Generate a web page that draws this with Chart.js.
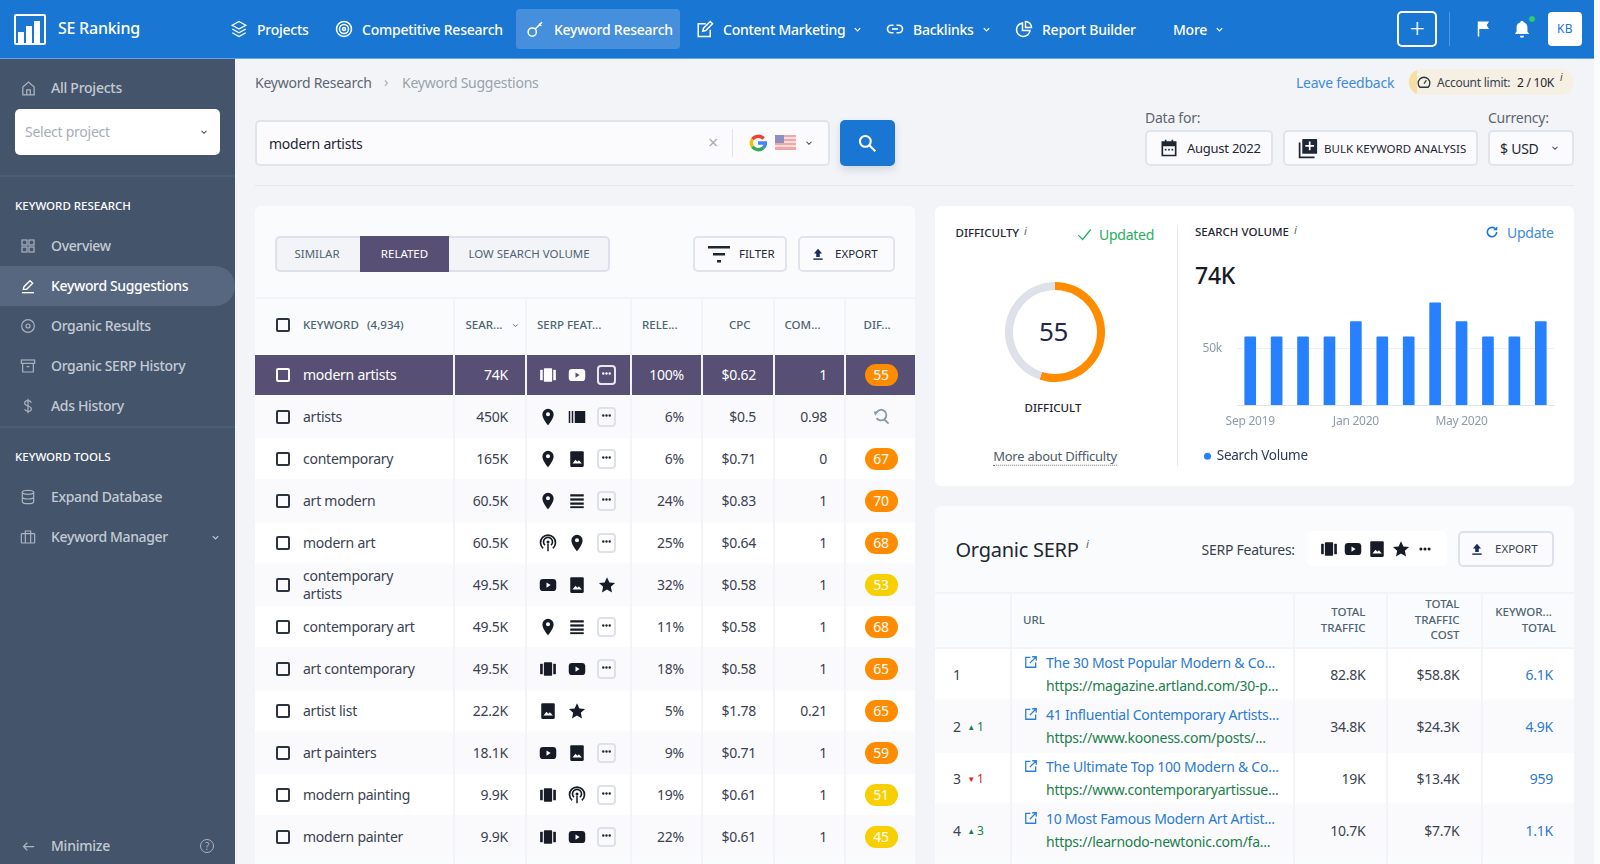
<!DOCTYPE html>
<html>
<head>
<meta charset="utf-8">
<script src="https://cdn.jsdelivr.net/npm/chart.js@4"></script>
<style>
html, body { margin: 0; padding: 0; width: 1600px; height: 864px; overflow: hidden; background: #f3f4f8; }
body { font-family: "Noto Sans", sans-serif; color: #3a4250; position: relative; letter-spacing: -0.25px; }
.t { position: absolute; white-space: nowrap; line-height: 1.2; }
.b { position: absolute; box-sizing: border-box; }
.i { position: absolute; display: block; }
canvas { position: absolute; }
</style>
</head>
<body>
<script>
// chart data
const months = ['Sep 2019', 'Oct 2019', 'Nov 2019', 'Dec 2019', 'Jan 2020', 'Feb 2020', 'Mar 2020', 'Apr 2020', 'May 2020', 'Jun 2020', 'Jul 2020', 'Aug 2020'];
const searchVolume = [60500, 60500, 60500, 60500, 74000, 60500, 60500, 90500, 74000, 60500, 60500, 74000];
const volumeTicks = [50000];
const difficultyValue = 55;
const difficultyMax = 100;

// keyword table
const keywords = ['modern artists', 'artists', 'contemporary', 'art modern', 'modern art', 'contemporary|artists', 'contemporary art', 'art contemporary', 'artist list', 'art painters', 'modern painting', 'modern painter'];
const volumes = ['74K', '450K', '165K', '60.5K', '60.5K', '49.5K', '49.5K', '49.5K', '22.2K', '18.1K', '9.9K', '9.9K'];
const serpIcons = ['carousel,youtube,more', 'pin,book,more', 'pin,image,more', 'pin,lines,more', 'podcast,pin,more', 'youtube,image,star', 'pin,lines,more', 'carousel,youtube,more', 'image,star', 'youtube,image,more', 'carousel,podcast,more', 'carousel,youtube,more'];
const relevance = ['100%', '6%', '6%', '24%', '25%', '32%', '11%', '18%', '5%', '9%', '19%', '22%'];
const cpc = ['$0.62', '$0.5', '$0.71', '$0.83', '$0.64', '$0.58', '$0.58', '$0.58', '$1.78', '$0.71', '$0.61', '$0.61'];
const competition = ['1', '0.98', '0', '1', '1', '1', '1', '1', '0.21', '1', '1', '1'];
const difficulty = [55, null, 67, 70, 68, 53, 68, 65, 65, 59, 51, 45];

// organic serp table
const serpTitles = ['The 30 Most Popular Modern & Co...', '41 Influential Contemporary Artists...', 'The Ultimate Top 100 Modern & Co...', '10 Most Famous Modern Art Artist...'];
const serpUrls = ['https://magazine.artland.com/30-p...', 'https://www.kooness.com/posts/...', 'https://www.contemporaryartissue...', 'https://learnodo-newtonic.com/fa...'];
const serpChange = [0, 1, -1, 3];
const serpTraffic = ['82.8K', '34.8K', '19K', '10.7K'];
const serpCost = ['$58.8K', '$24.3K', '$13.4K', '$7.7K'];
const serpKeywords = ['6.1K', '4.9K', '959', '1.1K'];

const navItems = [['Projects', 257, 'layers'], ['Competitive Research', 362, 'target'], ['Keyword Research', 554, 'key'], ['Content Marketing', 723, 'edit'], ['Backlinks', 913, 'link'], ['Report Builder', 1042, 'pie'], ['More', 1173, '']];
const sideItems = [['Overview', 246, 'grid'], ['Keyword Suggestions', 286, 'pen'], ['Organic Results', 326, 'disc'], ['Organic SERP History', 366, 'box'], ['Ads History', 406, 'dollar'], ['Expand Database', 497, 'db'], ['Keyword Manager', 537, 'case']];

const paths = {
    pin: c => `<path fill="${c}" fill-rule="evenodd" d="M12 1a7.5 7.5 0 0 0-7.5 7.5C4.500 14 12 23 12 23s7.500-9 7.500-14.500A7.500 7.500 0 0 0 12 1zm0 10a2.700 2.700 0 1 1 0-5.400 2.700 2.700 0 0 1 0 5.400z"/>`,
    youtube: (c, bg) => `<rect x="1" y="4" width="22" height="16" rx="4.500" fill="${c}"/><path d="M10 8.500l5.500 3.500-5.500 3.500z" fill="${bg}"/>`,
    carousel: c => `<rect x="6.500" y="3" width="11" height="18" rx="1" fill="${c}"/><rect x="1.500" y="5" width="3.500" height="14" rx=".8" fill="${c}"/><rect x="19" y="5" width="3.500" height="14" rx=".8" fill="${c}"/>`,
    image: (c, bg) => `<rect x="3" y="1.500" width="18" height="21" rx="1.500" fill="${c}"/><path d="M6 18l4-5 2.500 2.500 2-2L18.500 18z" fill="${bg}"/>`,
    lines: c => `<rect x="3" y="3" width="18" height="3" fill="${c}"/><rect x="3" y="8.500" width="18" height="3" fill="${c}"/><rect x="3" y="14" width="18" height="3" fill="${c}"/><rect x="3" y="19" width="18" height="2.500" fill="${c}"/>`,
    book: c => `<rect x="1" y="4" width="2" height="16" fill="${c}"/><rect x="5" y="4" width="2" height="16" fill="${c}"/><rect x="9" y="4" width="14" height="16" fill="${c}"/>`,
    podcast: c => `<g fill="none" stroke="${c}" stroke-width="2.200"><path d="M5.500 19a10 10 0 1 1 13 0"/><path d="M8 15a6 6 0 1 1 8 0"/></g><circle cx="12" cy="10.500" r="2" fill="${c}"/><rect x="11" y="13" width="2" height="10" fill="${c}"/>`,
    star: c => `<path fill="${c}" d="M12 1.500l3.200 7 7.600.8-5.700 5.100 1.600 7.500L12 18l-6.700 3.900 1.600-7.500L1.200 9.300l7.600-.8z"/>`,
    dots: c => `<circle cx="5" cy="12" r="2.600" fill="${c}"/><circle cx="12" cy="12" r="2.600" fill="${c}"/><circle cx="19" cy="12" r="2.600" fill="${c}"/>`,
    arrow: c => `<path fill="none" stroke="${c}" stroke-width="2" d="M21 12H4M10 6l-6 6 6 6"/>`,
    search: c => `<g fill="none" stroke="${c}" stroke-width="2.500"><circle cx="10" cy="10" r="6.500"/><path d="M15 15l7 7"/></g>`,
    layers: c => `<g fill="none" stroke="${c}" stroke-width="1.800"><path d="M12 2l9 5-9 5-9-5z"/><path d="M3 12l9 5 9-5"/><path d="M3 17l9 5 9-5"/></g>`,
    target: c => `<g fill="none" stroke="${c}" stroke-width="2"><circle cx="12" cy="12" r="10"/><circle cx="12" cy="12" r="6"/><circle cx="12" cy="12" r="2"/></g>`,
    key: c => `<g fill="none" stroke="${c}" stroke-width="2"><circle cx="7" cy="16" r="5.500"/><path d="M11 12l9-9M16 5l3 3"/></g>`,
    edit: c => `<g fill="none" stroke="${c}" stroke-width="2"><path d="M19 13v9H3V5h10"/><path d="M9 15l1-4L19 2l3 3-9 9z"/></g>`,
    link: c => `<g fill="none" stroke="${c}" stroke-width="2.200"><path d="M10 7H7a5 5 0 0 0 0 10h3"/><path d="M14 7h3a5 5 0 0 1 0 10h-3"/><path d="M8 12h8"/></g>`,
    pie: c => `<g fill="none" stroke="${c}" stroke-width="2"><path d="M10 4a9 9 0 1 0 10 10H10z"/><path d="M14 2a8 8 0 0 1 8 8h-8z"/></g>`,
    flag: c => `<path fill="${c}" d="M5 2h15l-3 5 3 5H7v10H5z"/>`,
    bell: c => `<path fill="${c}" d="M12 2a2 2 0 0 1 2 2 6.500 6.500 0 0 1 4.500 6v5l2 3H3.500l2-3v-5A6.500 6.500 0 0 1 10 4a2 2 0 0 1 2-2zM9.500 20h5a2.500 2.500 0 0 1-5 0z"/>`,
    home: c => `<g fill="none" stroke="${c}" stroke-width="1.800"><path d="M4 10l8-7 8 7v11H4z"/><path d="M9.500 21v-7h5v7"/></g>`,
    grid: c => `<g fill="none" stroke="${c}" stroke-width="1.800"><rect x="3" y="3" width="7.500" height="7.500"/><rect x="13.500" y="3" width="7.500" height="7.500"/><rect x="3" y="13.500" width="7.500" height="7.500"/><rect x="13.500" y="13.500" width="7.500" height="7.500"/></g>`,
    pen: c => `<g fill="none" stroke="${c}" stroke-width="2"><path d="M5 17l1-4 9-9 4 4-9 9z"/><path d="M3 22h18"/></g>`,
    disc: c => `<g fill="none" stroke="${c}" stroke-width="1.800"><circle cx="12" cy="12" r="9.500"/><circle cx="12" cy="12" r="3"/></g>`,
    box: c => `<g fill="none" stroke="${c}" stroke-width="1.800"><rect x="2" y="3" width="20" height="5"/><path d="M4 8v13h16V8M10 13h4"/></g>`,
    dollar: c => `<g fill="none" stroke="${c}" stroke-width="1.800"><path d="M17 7c-1-2-3-3-5-3-3 0-5 2-5 4s2 3 5 4 5 2 5 4-2 4-5 4c-2 0-4-1-5-3"/><path d="M12 1v22"/></g>`,
    db: c => `<g fill="none" stroke="${c}" stroke-width="1.800"><ellipse cx="12" cy="5" rx="8.500" ry="3"/><path d="M3.500 5v14c0 2 4 3 8.500 3s8.500-1 8.500-3V5M3.500 12c0 2 4 3 8.500 3s8.500-1 8.500-3"/></g>`,
    case: c => `<g fill="none" stroke="${c}" stroke-width="1.800"><rect x="2" y="7" width="20" height="14" rx="1"/><path d="M8 21V3h8v18"/></g>`,
    chev: c => `<path fill="none" stroke="${c}" stroke-width="2.500" d="M6 9l6 6 6-6"/>`,
    cal: c => `<path fill="${c}" fill-rule="evenodd" d="M3 4h4V2h2v2h6V2h2v2h4v18H3zm2 6v10h14V10z"/><rect x="7" y="13" width="2" height="2" fill="${c}"/><rect x="11" y="13" width="2" height="2" fill="${c}"/><rect x="15" y="13" width="2" height="2" fill="${c}"/>`,
    bulk: (c, bg) => `<rect x="6" y="1" width="17" height="17" rx="1" fill="${c}"/><path d="M13.500 4h2v4h4v2h-4v4h-2v-4h-4V8h4z" fill="${bg}"/><path d="M3 5v17h17" fill="none" stroke="${c}" stroke-width="2"/>`,
    upload: c => `<path fill="${c}" d="M12 3l7 8h-4v6H9v-6H5z"/><rect x="4" y="19.500" width="16" height="2.500" fill="#1b2a5c"/>`,
    filter: c => `<rect x="1" y="4" width="22" height="2.500" fill="${c}"/><rect x="6" y="11" width="12" height="2.500" fill="${c}"/><rect x="10" y="18" width="4" height="2.500" fill="${c}"/>`,
    ext: c => `<g fill="none" stroke="${c}" stroke-width="2.200"><path d="M20 13v8H3V4h8"/><path d="M10 14L21 3M14 3h7v7"/></g>`,
    check: c => `<path fill="none" stroke="${c}" stroke-width="2" d="M2 13l7 7L22 4"/>`,
    refresh: c => `<path fill="none" stroke="${c}" stroke-width="2.800" d="M20 12a8 8 0 1 1-3-6.200"/><path fill="${c}" d="M21 2v7h-7z"/>`,
    gauge: c => `<g fill="none" stroke="${c}" stroke-width="2.200"><path d="M5 21a10 10 0 1 1 14 0z"/><path d="M12 15l4-6"/></g>`,
    loupe: c => `<g fill="none" stroke="${c}" stroke-width="2.600"><path d="M5 6a7.500 7.500 0 1 1 0 8"/><path d="M15.500 15.500L22 22"/></g><path fill="${c}" d="M1 5h7L3 11z"/>`
};

const caps = 'font-size:11.5px;letter-spacing:0;';
const headCaps = caps + 'color:#4e6472;font-weight:500';

function box(x, y, w, h, css) {
    const d = document.createElement('div');
    d.className = 'b';
    d.style.cssText = `left:${x}px;top:${y}px;width:${w}px;height:${h}px;${css || ''}`;
    document.body.appendChild(d);
    return d;
}

// x,y is the vertical centre of the text; align l, r or c
function txt(x, y, s, css, align) {
    const d = document.createElement('div');
    d.className = 't';
    const tx = align === 'r' ? '-100%' : align === 'c' ? '-50%' : '0';
    d.style.cssText = `left:${x}px;top:${y}px;transform:translate(${tx},-50%);${css || ''}`;
    d.textContent = s;
    document.body.appendChild(d);
    return d;
}

function icon(name, cx, cy, size, color, bg) {
    const holder = document.createElement('div');
    holder.innerHTML = `<svg class="i" viewBox="0 0 24 24" width="${size}" height="${size}" style="left:${cx - size / 2}px;top:${cy - size / 2}px">${paths[name](color, bg || '#fff')}</svg>`;
    document.body.appendChild(holder.firstChild);
}

function checkbox(cx, cy, color) {
    box(cx - 7, cy - 7, 14, 14, `border:2px solid ${color};border-radius:2px`);
}

function moreBtn(cx, cy, color, border) {
    box(cx - 9.5, cy - 10, 19, 20, `border:2px solid ${border};border-radius:4px`);
    icon('dots', cx, cy - 1, 11, color);
}

// ---- page frame ----
box(0, 0, 1600, 59, 'background:#1976d2;border-bottom:1px solid #62a6e8');
box(0, 59, 235, 805, 'background:#44546b');
box(1594, 0, 6, 864, 'background:#fbfbfc');

// top bar
box(14, 14, 32, 31, 'border:2px solid #fff;border-radius:2px');
box(18, 32, 6, 11, 'background:#fff');
box(26, 26, 6, 17, 'background:#fff');
box(34, 21, 6, 22, 'background:#fff');
txt(58, 29, 'SE Ranking', 'color:#fff;font-size:16px;font-weight:500');
box(516, 9, 164, 40, 'background:#468fdd;border-radius:4px');
navItems.forEach(([label, x, ic]) => {
    txt(x, 29.5, label, 'color:#fff;font-size:14px;font-weight:500');
    if (ic) icon(ic, x - 18, 29, 18, '#fff');
});
icon('chev', 857, 29, 11, '#fff');
icon('chev', 986, 29, 11, '#fff');
icon('chev', 1219, 29, 11, '#fff');
box(1397, 11, 40, 36, 'border:2px solid #fff;border-radius:5px');
txt(1417, 28, '+', 'color:#fff;font-size:27px;font-weight:300', 'c');
box(1449, 12, 1, 34, 'background:#4f97df');
icon('flag', 1483, 29, 18, '#fff');
icon('bell', 1522, 29, 20, '#fff');
box(1528, 15, 8, 8, 'background:#2ecc71;border-radius:50%;border:1px solid #1976d2');
box(1548, 12, 34, 34, 'background:#fff;border-radius:4px');
txt(1565, 29, 'KB', 'color:#1976d2;font-size:12px;letter-spacing:.5px', 'c');

// sidebar
icon('home', 28, 88, 17, '#aab3c0');
txt(51, 88, 'All Projects', 'color:#c3cad4;font-size:14px;font-weight:500');
box(15, 109, 205, 46, 'background:#fff;border-radius:5px');
txt(25, 132, 'Select project', 'color:#a7adb6;font-size:14px');
icon('chev', 204, 132, 10, '#3a4250');
box(0, 175, 235, 2, 'background:#4d5d74');
box(0, 426, 235, 2, 'background:#4d5d74');
txt(15, 206, 'KEYWORD RESEARCH', caps + 'color:#fff;font-weight:500');
txt(15, 457, 'KEYWORD TOOLS', caps + 'color:#fff;font-weight:500');
box(0, 266, 235, 40, 'background:#56677f;border-radius:0 20px 20px 0');
sideItems.forEach(([label, y, ic]) => {
    const active = label === 'Keyword Suggestions';
    txt(51, y, label, `color:${active ? '#fff' : '#c3cad4'};font-size:14px;font-weight:500;letter-spacing:-.35px`);
    icon(ic, 28, y, 16, active ? '#fff' : '#aab3c0');
});
icon('chev', 215, 537, 11, '#c3cad4');
icon('arrow', 28, 846, 15, '#aab3c0');
txt(51, 846, 'Minimize', 'color:#c3cad4;font-size:14px;font-weight:500');
box(200, 839, 14, 14, 'border:1.500px solid #aab3c0;border-radius:50%');
txt(207, 846, '?', 'color:#aab3c0;font-size:10px', 'c');

// breadcrumb + search row
txt(255, 83, 'Keyword Research', 'color:#5d6670;font-size:14px');
txt(386, 82, '›', 'color:#a7adb6;font-size:14px', 'c');
txt(402, 83, 'Keyword Suggestions', 'color:#9aa2ab;font-size:14px');
txt(1296, 83, 'Leave feedback', 'color:#3f8bd8;font-size:14px');
box(1409, 69, 165, 26, 'background:#f5f0e3;border-radius:13px;overflow:hidden').innerHTML = '<div style="width:8px;height:26px;background:#f6dfa0"></div>';
icon('gauge', 1424, 82, 14, '#2b3440');
txt(1437, 82.500, 'Account limit:', 'color:#3a4250;font-size:12px');
txt(1517, 82.500, '2 / 10K', 'color:#1f2733;font-size:12px');
txt(1560, 77, 'i', 'color:#3a4250;font-size:10px;font-style:italic');

box(255, 120, 575, 46, 'background:#fbfbfd;border:2px solid #e2e4ec;border-radius:5px');
txt(269, 144, 'modern artists', 'color:#1f2733;font-size:14px');
txt(713, 143, '×', 'color:#a7adb6;font-size:18px', 'c');
box(732, 129, 1, 28, 'background:#e2e4ec');
document.body.insertAdjacentHTML('beforeend', `<svg class="i" viewBox="0 0 24 24" width="18" height="18" style="left:749px;top:134px"><g fill="none" stroke-width="4.500"><path stroke="#ea4335" d="M19.500 6a10 10 0 0 0-15 1"/><path stroke="#fbbc05" d="M4.500 7a10 10 0 0 0 0 10"/><path stroke="#34a853" d="M4.500 17a10 10 0 0 0 14.500 1.500"/><path stroke="#4285f4" d="M19 18.500A10 10 0 0 0 22 12H12"/></g></svg>`);
document.body.insertAdjacentHTML('beforeend', `<svg class="i" viewBox="0 0 21 15" width="21" height="15" style="left:775px;top:135px"><rect width="21" height="15" fill="#f3a6a6"/><rect y="2" width="21" height="2" fill="#f6dede"/><rect y="6" width="21" height="2" fill="#f6dede"/><rect y="10" width="21" height="2" fill="#f6dede"/><rect width="9" height="8" fill="#8c8fc0"/></svg>`);
icon('chev', 809, 143, 10, '#3a4250');
box(840, 120, 55, 46, 'background:#1976d2;border-radius:5px;box-shadow:0 4px 8px rgba(60,90,140,.18)');
icon('search', 867, 143, 20, '#fff');

txt(1145, 118, 'Data for:', 'color:#5d6670;font-size:14px');
txt(1488, 118, 'Currency:', 'color:#5d6670;font-size:14px');
box(1145, 130, 128, 36, 'background:#fbfbfd;border:2px solid #e2e4ec;border-radius:5px');
icon('cal', 1169, 148, 20, '#1f2733');
txt(1187, 148.500, 'August 2022', 'color:#1f2733;font-size:13px');
box(1283, 130, 195, 36, 'background:#fbfbfd;border:2px solid #e2e4ec;border-radius:5px');
icon('bulk', 1307, 148, 21, '#1f2733', '#fbfbfd');
txt(1324, 148.500, 'BULK KEYWORD ANALYSIS', caps + 'color:#1f2733');
box(1488, 130, 86, 36, 'background:#fbfbfd;border:2px solid #e2e4ec;border-radius:5px');
txt(1500, 148.500, '$ USD', 'color:#1f2733;font-size:14px');
icon('chev', 1555, 148, 10, '#3a4250');
box(255, 185, 1319, 1, 'background:#e5e7ed');

// ---- keyword panel ----
box(255, 206, 660, 658, 'background:#fafbfd;border-radius:6px 6px 0 0');
box(275, 236, 335, 36, 'background:#f3f4f8;border:2px solid #dfe1ea;border-radius:5px');
box(360, 236, 89, 36, 'background:#584f75');
txt(317, 254, 'SIMILAR', caps + 'color:#4e6472', 'c');
txt(404.500, 254, 'RELATED', caps + 'color:#fff', 'c');
txt(529, 254, 'LOW SEARCH VOLUME', caps + 'color:#4e6472', 'c');
box(693, 236, 94, 36, 'background:#fbfbfd;border:2px solid #e2e4ec;border-radius:5px');
icon('filter', 719, 254, 24, '#1f2733');
txt(739, 254, 'FILTER', caps + 'color:#1f2733');
box(798, 236, 97, 36, 'background:#fbfbfd;border:2px solid #e2e4ec;border-radius:5px');
icon('upload', 818, 254, 14, '#1b2a5c');
txt(835, 254, 'EXPORT', caps + 'color:#1f2733');
box(255, 297, 660, 2, 'background:#f3f4f8');

const colEdges = [255, 453, 525, 630, 701, 773, 844, 915];
colEdges.slice(1, 7).forEach(x => box(x, 299, 2, 565, 'background:#f3f4f8'));
checkbox(283, 325, '#2b3440');
txt(303, 325, 'KEYWORD', headCaps);
txt(367, 325, '(4,934)', headCaps);
txt(465.500, 325, 'SEAR...', headCaps);
icon('chev', 515, 325, 9, '#4e6472');
txt(537, 325, 'SERP FEAT...', headCaps);
txt(642, 325, 'RELE...', headCaps);
txt(729, 325, 'CPC', headCaps);
txt(784.500, 325, 'COM...', headCaps);
txt(863.500, 325, 'DIF...', headCaps);

function difficultyColor(v) {
    return v >= 55 ? '#ff8c00' : '#f8cf00';
}

keywords.forEach((kw, i) => {
    const top = 353.500 + i * 42;
    const cy = top + 21;
    const hi = i === 0;
    const fg = hi ? '#fff' : '#3a4250';
    const rowBg = hi ? '#584f75' : (i % 2 === 1 ? '#fafafd' : '#fff');
    const bg = hi ? '#584f75' : '#fff';
    for (let c = 0; c < 7; c++) {
        const left = colEdges[c] + (c ? 2 : 0);
        box(left, top + 1, colEdges[c + 1] - left, 40, `background:${rowBg}`);
    }
    checkbox(283, cy, hi ? '#fff' : '#2b3440');
    const lines = kw.split('|');
    if (lines.length > 1) {
        txt(303, cy - 9, lines[0], `color:${fg};font-size:14px`);
        txt(303, cy + 9, lines[1], `color:${fg};font-size:14px`);
    } else {
        txt(303, cy, kw, `color:${fg};font-size:14px`);
    }
    txt(508, cy, volumes[i], `color:${fg};font-size:14px`, 'r');
    const centres = [547.500, 577, 606.500];
    serpIcons[i].split(',').forEach((name, k) => {
        if (name === 'more') moreBtn(centres[k], cy, hi ? '#fff' : '#1f2733', hi ? '#e8e6ee' : '#dfe1ea');
        else icon(name, centres[k], cy, 18, hi ? '#fff' : '#161b26', hi ? '#584f75' : bg);
    });
    txt(684, cy, relevance[i], `color:${fg};font-size:14px`, 'r');
    txt(756, cy, cpc[i], `color:${fg};font-size:14px`, 'r');
    txt(827, cy, competition[i], `color:${fg};font-size:14px`, 'r');
    if (difficulty[i] === null) {
        icon('loupe', 881, cy, 17, '#8b9aa6');
    } else {
        box(864.500, cy - 11, 33, 22, `background:${difficultyColor(difficulty[i])};border-radius:11px`);
        txt(881, cy, String(difficulty[i]), 'color:#fff;font-size:14px', 'c');
    }
});

// ---- difficulty + volume card ----
box(935, 206, 639, 280, 'background:#fff;border-radius:6px');
box(1177, 226, 1, 240, 'background:#e8e9ef');
txt(955.500, 233, 'DIFFICULTY', caps + 'color:#1f2733;font-weight:500');
txt(1024, 231, 'i', 'color:#4e6472;font-size:11px;font-style:italic');
icon('check', 1084, 234, 15, '#27ae60');
txt(1099, 234.500, 'Updated', 'color:#27ae60;font-size:14px');
txt(1053.500, 332, '55', 'color:#23264f;font-size:26px', 'c');
txt(1053, 408, 'DIFFICULT', caps + 'color:#1f2733;font-weight:500', 'c');
txt(1055, 457, 'More about Difficulty', 'color:#4e5a68;font-size:13px;border-bottom:1px dotted #6a7682', 'c');
txt(1195, 232, 'SEARCH VOLUME', caps + 'color:#1f2733;font-weight:500');
txt(1294, 230, 'i', 'color:#4e6472;font-size:11px;font-style:italic');
icon('refresh', 1492, 232, 14, '#1976d2');
txt(1507, 233, 'Update', 'color:#3f8bd8;font-size:14px');
txt(1195, 276, '74K', 'color:#161b26;font-size:23px;font-weight:500');

const gaugeCanvas = document.createElement('canvas');
gaugeCanvas.width = 100;
gaugeCanvas.height = 100;
gaugeCanvas.style.cssText = 'left:1005px;top:282px';
document.body.appendChild(gaugeCanvas);
new Chart(gaugeCanvas.getContext('2d'), {
    type: 'doughnut',
    data: {
        datasets: [{
            data: [difficultyValue, difficultyMax - difficultyValue],
            backgroundColor: ['#ff8c00', '#dfe1ea'],
            borderWidth: 0
        }]
    },
    options: {
        responsive: false,
        animation: false,
        cutout: '84%',
        plugins: { legend: { display: false }, tooltip: { enabled: false } }
    }
});

const volumeCanvas = document.createElement('canvas');
volumeCanvas.width = 381;
volumeCanvas.height = 203;
volumeCanvas.style.cssText = 'left:1185px;top:270px';
document.body.appendChild(volumeCanvas);
new Chart(volumeCanvas.getContext('2d'), {
    type: 'bar',
    data: {
        labels: months,
        datasets: [{
            label: 'Search Volume',
            data: searchVolume,
            backgroundColor: '#2680ff',
            barThickness: 11,
            borderRadius: 1
        }]
    },
    options: {
        responsive: false,
        animation: false,
        layout: { padding: { right: 12 } },
        scales: {
            x: {
                grid: { display: false },
                border: { color: '#dfe3ec' },
                ticks: {
                    autoSkip: false,
                    maxRotation: 0,
                    color: '#8f9ba8',
                    font: { family: 'Noto Sans', size: 12 },
                    padding: 1,
                    callback: function (value, index) {
                        return index % 4 === 0 ? months[index] : '';
                    }
                }
            },
            y: {
                min: 0,
                max: 100000,
                afterBuildTicks: axis => { axis.ticks = volumeTicks.map(v => ({ value: v })); },
                afterFit: axis => { axis.width = 52; },
                grid: { color: '#eef0f4', drawTicks: false },
                border: { display: false },
                ticks: {
                    color: '#8f9ba8',
                    font: { family: 'Noto Sans', size: 12 },
                    padding: 15,
                    callback: value => (value / 1000) + 'k'
                }
            }
        },
        plugins: {
            tooltip: { enabled: false },
            legend: {
                position: 'bottom',
                align: 'start',
                labels: {
                    usePointStyle: true,
                    pointStyle: 'circle',
                    boxWidth: 5,
                    boxHeight: 5,
                    padding: 20,
                    color: '#2c3a5c',
                    font: { family: 'Noto Sans', size: 13.5 }
                }
            }
        }
    }
});

// ---- organic serp card ----
box(935, 506, 639, 358, 'background:#fafbfd;border-radius:6px 6px 0 0');
txt(955.500, 550, 'Organic SERP', 'color:#1f2733;font-size:20px');
txt(1086, 544, 'i', 'color:#4e6472;font-size:11px;font-style:italic');
txt(1201.500, 549.500, 'SERP Features:', 'color:#3a4250;font-size:14px');
box(1307, 531, 140, 35, 'background:#fff;border-radius:5px');
['carousel', 'youtube', 'image', 'star'].forEach((name, k) => icon(name, 1329 + k * 24, 549, 18, '#161b26', '#fff'));
icon('dots', 1425, 549, 14, '#161b26');
box(1458, 531, 96, 36, 'background:#fbfbfd;border:2px solid #dfe1ea;border-radius:5px');
icon('upload', 1477, 549, 14, '#1b2a5c');
txt(1495, 549, 'EXPORT', caps + 'color:#3a4250');
box(935, 592, 639, 2, 'background:#f3f4f8');

const serpEdges = [935, 1010, 1293, 1386, 1481, 1574];
serpEdges.slice(1, 5).forEach(x => box(x, 594, 2, 270, 'background:#f3f4f8'));
box(935, 647, 639, 2, 'background:#f3f4f8');
txt(1023, 620, 'URL', headCaps);
txt(1365.500, 612, 'TOTAL', headCaps, 'r');
txt(1365.500, 628, 'TRAFFIC', headCaps, 'r');
txt(1459.500, 604, 'TOTAL', headCaps, 'r');
txt(1459.500, 620, 'TRAFFIC', headCaps, 'r');
txt(1459.500, 635, 'COST', headCaps, 'r');
txt(1552, 612, 'KEYWOR...', headCaps, 'r');
txt(1556, 628, 'TOTAL', headCaps, 'r');

serpTitles.forEach((title, i) => {
    const top = 649 + i * 52;
    const cy = top + 26;
    const rowBg = i % 2 === 0 ? '#fff' : '#fafafd';
    for (let c = 0; c < 5; c++) {
        const left = serpEdges[c] + (c ? 2 : 0);
        box(left, top, serpEdges[c + 1] - left, 50, `background:${rowBg}`);
    }
    txt(953, cy, String(i + 1), 'color:#3a4250;font-size:14px');
    const ch = serpChange[i];
    if (ch !== 0) {
        const col = ch > 0 ? '#1a7f4b' : '#d81e1e';
        txt(971, cy, ch > 0 ? '▲' : '▼', `color:${col};font-size:8px`, 'c');
        txt(977, cy, String(Math.abs(ch)), `color:${col};font-size:12px`);
    }
    icon('ext', 1031, cy - 13, 14, '#2a7fd6');
    txt(1046, cy - 12, title, 'color:#2a7ad0;font-size:14px');
    txt(1046, cy + 11, serpUrls[i], 'color:#1a7f4b;font-size:14px');
    txt(1365.500, cy, serpTraffic[i], 'color:#3a4250;font-size:14px', 'r');
    txt(1459.500, cy, serpCost[i], 'color:#3a4250;font-size:14px', 'r');
    txt(1553, cy, serpKeywords[i], 'color:#2a7ad0;font-size:14px', 'r');
});
</script>
</body>
</html>
